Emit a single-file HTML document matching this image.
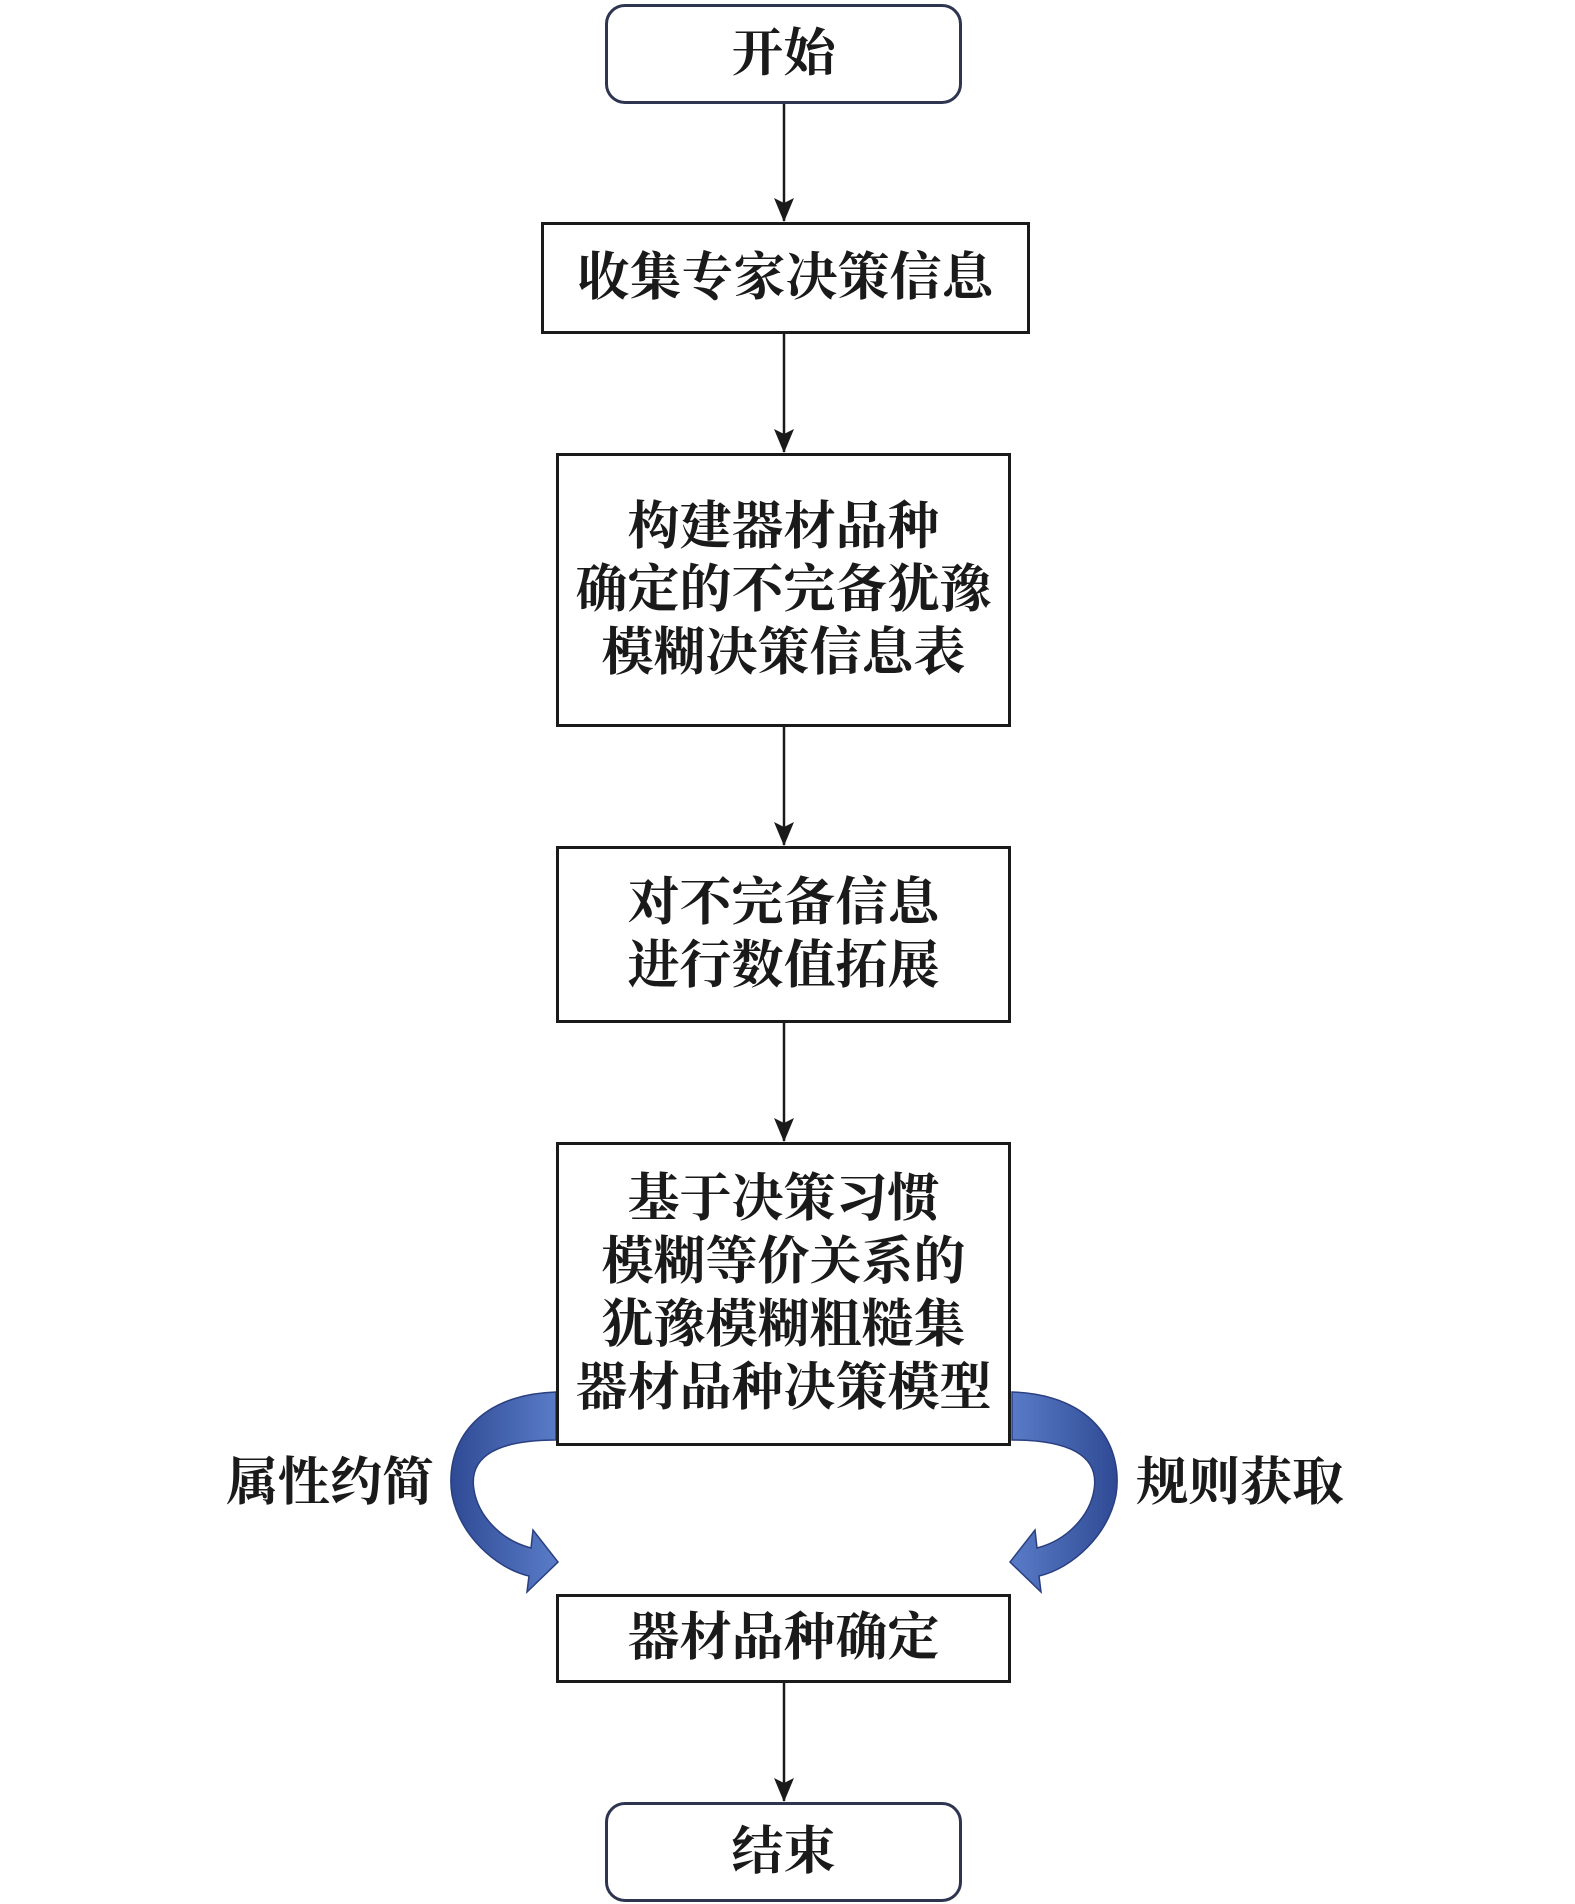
<!DOCTYPE html>
<html><head><meta charset="utf-8"><style>
html,body{margin:0;padding:0;background:#fff;}
body{width:1575px;height:1904px;position:relative;overflow:hidden;font-family:"Liberation Serif","Noto Serif CJK SC",serif;color:#1a1a1a;}
.b{position:absolute;box-sizing:border-box;border:3.5px solid #1a1a1a;background:#fff;display:flex;align-items:center;justify-content:center;text-align:center;font-size:52px;line-height:63px;font-weight:bold;}
.r{border-color:#2e3550;border-radius:20px;}
.l{position:absolute;font-size:52px;line-height:56px;font-weight:bold;}
</style></head><body>
<svg width="1575" height="1904" style="position:absolute;left:0;top:0">
<defs>
<marker id="a" markerWidth="24" markerHeight="20" refX="23" refY="10" orient="auto" markerUnits="userSpaceOnUse">
<path d="M0,0 L24,10 L0,20 L5,10 Z" fill="#1a1a1a"/></marker>
<linearGradient id="g" x1="0" y1="0" x2="1" y2="0"><stop offset="0" stop-color="#2f4a94"/><stop offset="1" stop-color="#5a7cc8"/></linearGradient>
</defs>
<g stroke="#1a1a1a" stroke-width="2.5" marker-end="url(#a)">
<line x1="784" y1="104" x2="784" y2="221"/>
<line x1="784" y1="334" x2="784" y2="452"/>
<line x1="784" y1="727" x2="784" y2="845"/>
<line x1="784" y1="1023" x2="784" y2="1141"/>
<line x1="784" y1="1683" x2="784" y2="1801"/>
</g>
<path d="M556,1392 C470,1395 445,1450 452,1495 C460,1535 495,1568 529,1576 L527,1592 L558,1562 L533,1530 L531,1548 C500,1540 478,1515 474,1490 C468,1455 500,1440 556,1440 Z" fill="url(#g)" stroke="#2a3f80" stroke-width="1.5"/>
<g transform="translate(1568,0) scale(-1,1)">
<path d="M556,1392 C470,1395 445,1450 452,1495 C460,1535 495,1568 529,1576 L527,1592 L558,1562 L533,1530 L531,1548 C500,1540 478,1515 474,1490 C468,1455 500,1440 556,1440 Z" fill="url(#g)" stroke="#2a3f80" stroke-width="1.5"/>
</g>
</svg>
<div class="b r" style="left:605px;top:4px;width:357px;height:100px;">开始</div>
<div class="b" style="left:541px;top:222px;width:489px;height:112px;">收集专家决策信息</div>
<div class="b" style="left:556px;top:453px;width:455px;height:274px;">构建器材品种<br>确定的不完备犹豫<br>模糊决策信息表</div>
<div class="b" style="left:556px;top:846px;width:455px;height:177px;">对不完备信息<br>进行数值拓展</div>
<div class="b" style="left:556px;top:1142px;width:455px;height:304px;">基于决策习惯<br>模糊等价关系的<br>犹豫模糊粗糙集<br>器材品种决策模型</div>
<div class="b" style="left:556px;top:1594px;width:455px;height:89px;">器材品种确定</div>
<div class="b r" style="left:605px;top:1802px;width:357px;height:100px;">结束</div>
<div class="l" style="left:226px;top:1456px;">属性约简</div>
<div class="l" style="left:1136px;top:1456px;">规则获取</div>
</body></html>
